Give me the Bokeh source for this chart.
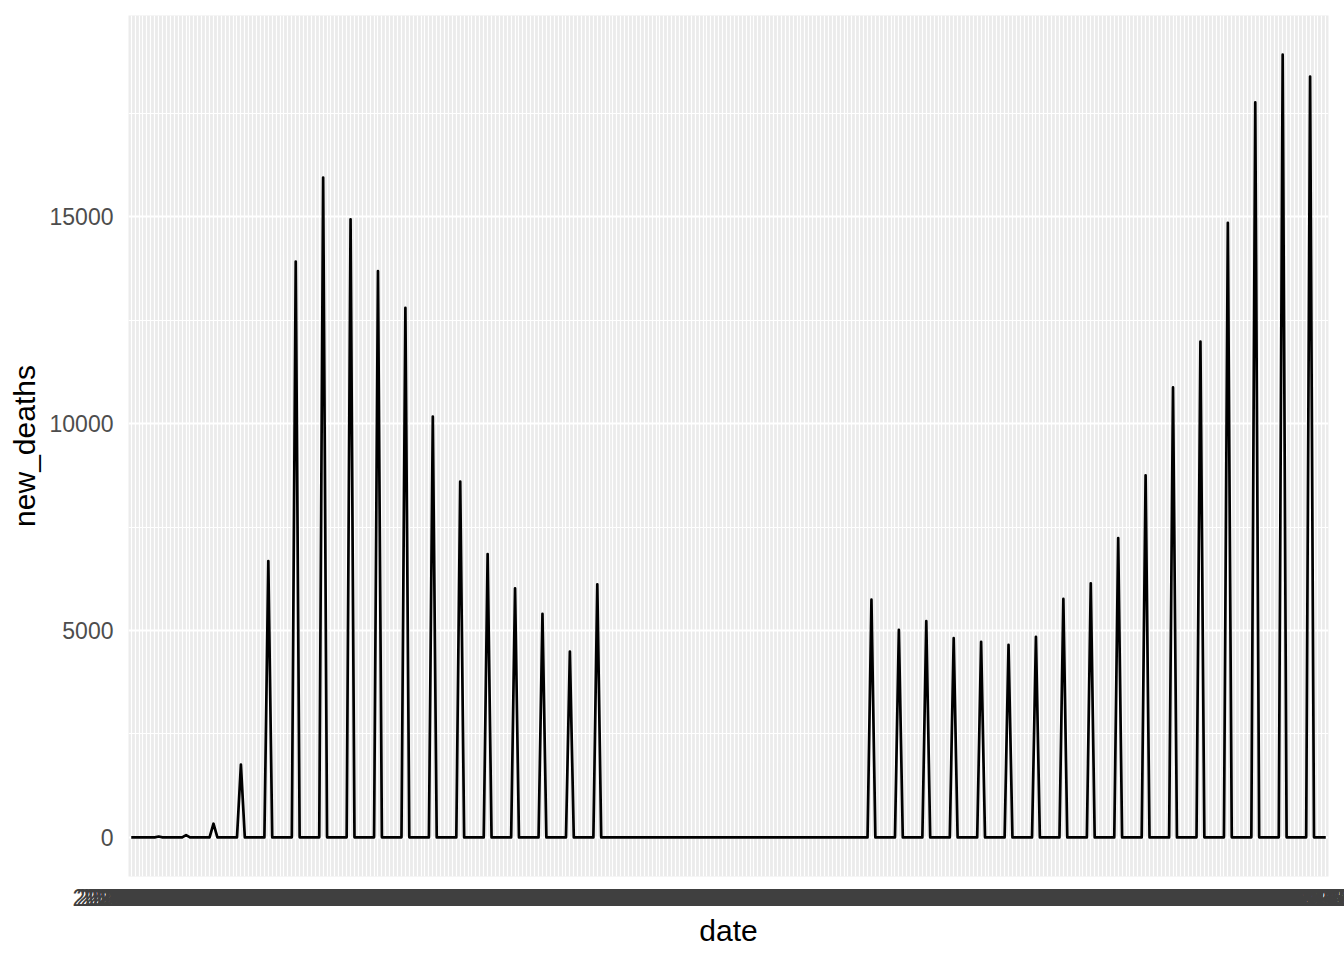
import pandas as pd
from bokeh.plotting import figure
from bokeh.models import FactorRange, Range1d, FixedTicker, ColumnDataSource
from bokeh.embed import file_html
from bokeh.resources import INLINE

# ---- data ----
start_date = "2020-01-05"
n_days = 306
dates = list(pd.date_range(start_date, periods=n_days, freq="D").strftime("%Y-%m-%d"))

# one report every 7th day, zeros on the other days
report_every = 7
weekly_deaths = [
    20, 55, 330, 1760, 6680, 13920, 15950, 14940, 13690, 12800,
    10170, 8600, 6850, 6020, 5405, 4490, 6118,
    0, 0, 0, 0, 0, 0, 0, 0, 0,
    5745, 5015, 5225, 4815, 4726, 4654, 4847, 5763, 6142, 7234,
    8753, 10875, 11985, 14854, 17765, 18920, 18392,
]
new_deaths = [0] * n_days
for k, v in enumerate(weekly_deaths, start=1):
    new_deaths[k * report_every] = v

y_ticks = [0, 5000, 10000, 15000]
y_minor_ticks = [2500, 7500, 12500, 17500]

src = ColumnDataSource(dict(date=dates, new_deaths=new_deaths))

ymax = max(new_deaths)
ymin = 0
span = ymax - ymin

p = figure(
    width=1344, height=960,
    x_range=FactorRange(factors=dates, range_padding=0.2, range_padding_units="absolute"),
    y_range=Range1d(ymin - 0.05 * span, ymax + 0.05 * span),
    output_backend="svg", toolbar_location=None,
    min_border_left=128, min_border_right=16, min_border_top=15, min_border_bottom=84,
)

p.background_fill_color = "#EBEBEB"
p.border_fill_color = "white"
p.outline_line_color = None

p.xgrid.grid_line_color = "white"
p.xgrid.grid_line_width = 1.2
p.ygrid.grid_line_color = "white"
p.ygrid.grid_line_width = 2.2
p.ygrid.minor_grid_line_color = "white"
p.ygrid.minor_grid_line_width = 1.1

p.yaxis.ticker = FixedTicker(ticks=y_ticks, minor_ticks=y_minor_ticks)

for ax in (p.xaxis, p.yaxis):
    ax.axis_line_color = None
    ax.major_tick_line_color = None
    ax.minor_tick_line_color = None
    ax.major_tick_out = 0
    ax.major_tick_in = 0
    ax.minor_tick_out = 0
    ax.major_label_text_font = "Liberation Sans"
    ax.major_label_text_font_size = "23px"
    ax.major_label_text_color = "#4D4D4D"
    ax.axis_label_text_font = "Liberation Sans"
    ax.axis_label_text_font_size = "30px"
    ax.axis_label_text_font_style = "normal"
    ax.axis_label_text_color = "black"

p.xaxis.major_label_text_color = "#404040"
p.xaxis.axis_label = "date"
p.yaxis.axis_label = "new_deaths"
p.xaxis.major_label_standoff = 12
p.xaxis.axis_label_standoff = 5
p.yaxis.major_label_standoff = 15
p.yaxis.axis_label_standoff = 6

p.line(x="date", y="new_deaths", source=src, line_color="black",
       line_width=2.7, line_join="round")

open("out.html", "w").write(file_html(p, INLINE))
